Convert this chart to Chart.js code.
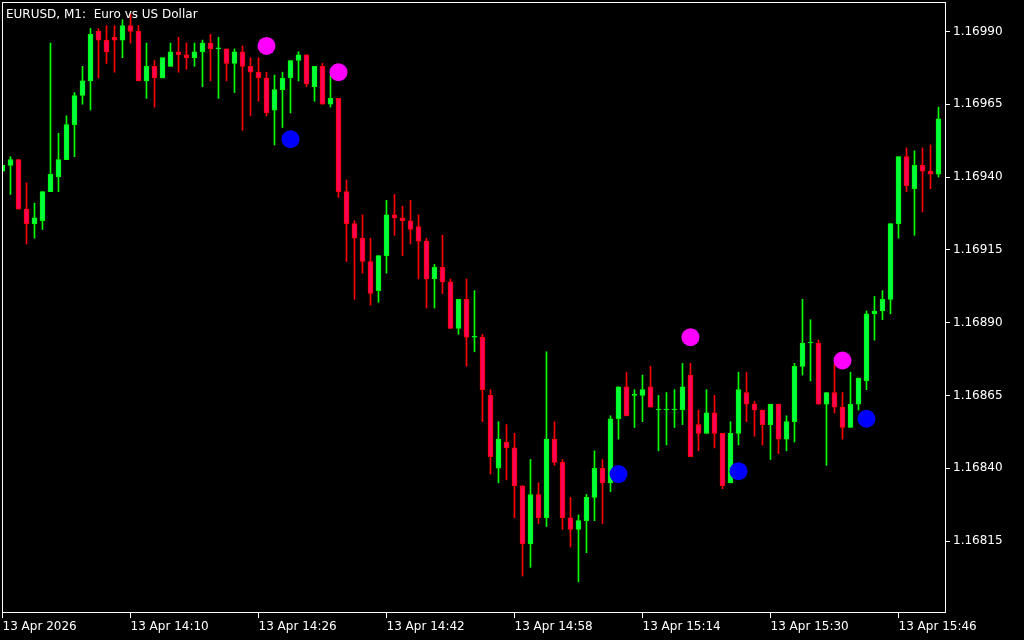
<!DOCTYPE html>
<html>
<head>
<meta charset="utf-8">
<title>EURUSD M1</title>
<script src="https://cdn.jsdelivr.net/npm/chart.js@4.4.1/dist/chart.umd.min.js"></script>
<style>
html, body { margin: 0; padding: 0; background: #000; }
#wrap { position: relative; width: 1024px; height: 640px; }
#title { position: absolute; left: 6px; top: 7px; color: #fff; font: 12px "DejaVu Sans", sans-serif; line-height: 14px; white-space: pre; }
</style>
</head>
<body>
<div id="wrap">
  <canvas id="c" width="1024" height="640"></canvas>
  <div id="title">EURUSD, M1:  Euro vs US Dollar</div>
</div>
<script>
// one bar per minute, starting 13 Apr 13:54
var opens = [
  1.16942, 1.16944, 1.16946, 1.16929, 1.16924, 1.16925, 1.16935, 1.16940, 1.16946, 1.16958,
  1.16968, 1.16973, 1.16990, 1.16987, 1.16988, 1.16987, 1.16992, 1.16990, 1.16973, 1.16978,
  1.16974, 1.16978, 1.16983, 1.16982, 1.16981, 1.16983, 1.16986, 1.16984, 1.16984, 1.16979,
  1.16983, 1.16978, 1.16976, 1.16974, 1.16963, 1.16970, 1.16974, 1.16980, 1.16982, 1.16971,
  1.16978, 1.16965, 1.16967, 1.16935, 1.16924, 1.16919, 1.16911, 1.16901, 1.16913, 1.16927,
  1.16926, 1.16925, 1.16923, 1.16918, 1.16905, 1.16909, 1.16904, 1.16888, 1.16898, 1.16885,
  1.16885, 1.16865, 1.16840, 1.16849, 1.16847, 1.16834, 1.16814, 1.16831, 1.16823, 1.16850,
  1.16842, 1.16823, 1.16819, 1.16822, 1.16830, 1.16840, 1.16835, 1.16857, 1.16868, 1.16865,
  1.16865, 1.16868, 1.16860, 1.16860, 1.16860, 1.16860, 1.16872, 1.16855, 1.16852, 1.16859,
  1.16852, 1.16835, 1.16852, 1.16866, 1.16862, 1.16860, 1.16855, 1.16862, 1.16850, 1.16856,
  1.16875, 1.16883, 1.16883, 1.16862, 1.16866, 1.16861, 1.16854, 1.16862, 1.16870, 1.16893,
  1.16894, 1.16898, 1.16924, 1.16947, 1.16936, 1.16944, 1.16942, 1.16941
];
var highs = [
  1.16944, 1.16947, 1.16946, 1.16938, 1.16931, 1.16935, 1.16986, 1.16955, 1.16961, 1.16969,
  1.16978, 1.16991, 1.16991, 1.16992, 1.16992, 1.16994, 1.16996, 1.16992, 1.16986, 1.16980,
  1.16981, 1.16986, 1.16988, 1.16986, 1.16986, 1.16987, 1.16989, 1.16988, 1.16984, 1.16984,
  1.16985, 1.16981, 1.16981, 1.16976, 1.16975, 1.16976, 1.16980, 1.16983, 1.16982, 1.16978,
  1.16979, 1.16975, 1.16967, 1.16939, 1.16925, 1.16927, 1.16919, 1.16913, 1.16932, 1.16934,
  1.16930, 1.16932, 1.16927, 1.16919, 1.16910, 1.16920, 1.16905, 1.16898, 1.16905, 1.16901,
  1.16886, 1.16867, 1.16856, 1.16855, 1.16852, 1.16834, 1.16843, 1.16835, 1.16880, 1.16856,
  1.16843, 1.16830, 1.16824, 1.16831, 1.16846, 1.16843, 1.16858, 1.16868, 1.16873, 1.16867,
  1.16872, 1.16875, 1.16865, 1.16866, 1.16867, 1.16876, 1.16876, 1.16860, 1.16867, 1.16865,
  1.16852, 1.16856, 1.16873, 1.16873, 1.16863, 1.16860, 1.16862, 1.16862, 1.16858, 1.16876,
  1.16898, 1.16891, 1.16884, 1.16866, 1.16876, 1.16866, 1.16873, 1.16871, 1.16894, 1.16899,
  1.16901, 1.16924, 1.16947, 1.16950, 1.16949, 1.16950, 1.16951, 1.16964
];
var lows = [
  1.16942, 1.16934, 1.16929, 1.16917, 1.16919, 1.16922, 1.16935, 1.16935, 1.16946, 1.16947,
  1.16965, 1.16963, 1.16974, 1.16979, 1.16976, 1.16981, 1.16986, 1.16973, 1.16967, 1.16964,
  1.16974, 1.16978, 1.16976, 1.16977, 1.16978, 1.16971, 1.16973, 1.16967, 1.16973, 1.16969,
  1.16956, 1.16961, 1.16966, 1.16961, 1.16951, 1.16957, 1.16962, 1.16973, 1.16971, 1.16966,
  1.16965, 1.16964, 1.16933, 1.16911, 1.16898, 1.16907, 1.16896, 1.16897, 1.16907, 1.16920,
  1.16913, 1.16917, 1.16905, 1.16895, 1.16895, 1.16900, 1.16888, 1.16886, 1.16875, 1.16880,
  1.16856, 1.16838, 1.16835, 1.16836, 1.16823, 1.16803, 1.16806, 1.16821, 1.16820, 1.16841,
  1.16819, 1.16813, 1.16801, 1.16811, 1.16822, 1.16821, 1.16832, 1.16850, 1.16858, 1.16854,
  1.16856, 1.16861, 1.16846, 1.16848, 1.16854, 1.16855, 1.16844, 1.16846, 1.16852, 1.16847,
  1.16833, 1.16835, 1.16848, 1.16856, 1.16851, 1.16848, 1.16843, 1.16845, 1.16846, 1.16849,
  1.16872, 1.16870, 1.16862, 1.16841, 1.16859, 1.16850, 1.16854, 1.16860, 1.16867, 1.16884,
  1.16891, 1.16893, 1.16919, 1.16935, 1.16920, 1.16928, 1.16936, 1.16940
];
var closes = [
  1.16944, 1.16946, 1.16929, 1.16924, 1.16926, 1.16935, 1.16941, 1.16946, 1.16958, 1.16968,
  1.16973, 1.16989, 1.16987, 1.16983, 1.16987, 1.16992, 1.16990, 1.16973, 1.16978, 1.16974,
  1.16981, 1.16983, 1.16982, 1.16981, 1.16983, 1.16986, 1.16984, 1.16984, 1.16979, 1.16983,
  1.16978, 1.16976, 1.16974, 1.16962, 1.16970, 1.16974, 1.16980, 1.16982, 1.16972, 1.16978,
  1.16965, 1.16967, 1.16935, 1.16924, 1.16919, 1.16911, 1.16900, 1.16913, 1.16927, 1.16926,
  1.16925, 1.16922, 1.16918, 1.16905, 1.16909, 1.16904, 1.16888, 1.16898, 1.16885, 1.16885,
  1.16867, 1.16844, 1.16850, 1.16847, 1.16834, 1.16814, 1.16831, 1.16823, 1.16850, 1.16842,
  1.16823, 1.16819, 1.16822, 1.16830, 1.16840, 1.16835, 1.16857, 1.16868, 1.16858, 1.16865,
  1.16867, 1.16861, 1.16860, 1.16860, 1.16860, 1.16868, 1.16844, 1.16852, 1.16859, 1.16852,
  1.16834, 1.16852, 1.16867, 1.16862, 1.16860, 1.16855, 1.16862, 1.16850, 1.16856, 1.16875,
  1.16883, 1.16883, 1.16862, 1.16866, 1.16861, 1.16854, 1.16862, 1.16871, 1.16893, 1.16894,
  1.16898, 1.16924, 1.16947, 1.16937, 1.16944, 1.16942, 1.16941, 1.16960
];

// signal dots (bar index, price)
var sellIdx = [33, 42, 86, 105];
var sellPrice = [1.16985, 1.16976, 1.16885, 1.16877];
var buyIdx = [36, 77, 92, 108];
var buyPrice = [1.16953, 1.16838, 1.16839, 1.16857];

// axis ticks
var tickIdx = [0, 16, 32, 48, 64, 80, 96, 112];
var tickLabels = ["13 Apr 2026", "13 Apr 14:10", "13 Apr 14:26", "13 Apr 14:42",
                  "13 Apr 14:58", "13 Apr 15:14", "13 Apr 15:30", "13 Apr 15:46"];
var priceTicks = [1.16815, 1.16840, 1.16865, 1.16890, 1.16915, 1.16940, 1.16965, 1.16990];

var bullLine = "#00ff00", bullFill = "#00ff40";
var bearLine = "#ff0000", bearFill = "#ff0055";

var bodies = [], wicks = [], bodyFill = [], bodyLine = [];
for (var i = 0; i < opens.length; i++) {
    var up = closes[i] >= opens[i];
    bodies.push({x: i, y: [opens[i], closes[i]]});
    wicks.push({x: i, y: [lows[i], highs[i]]});
    bodyFill.push(up ? bullFill : bearFill);
    bodyLine.push(up ? bullLine : bearLine);
}
var sells = sellIdx.map(function(k, j){ return {x: k, y: sellPrice[j]}; });
var buys = buyIdx.map(function(k, j){ return {x: k, y: buyPrice[j]}; });

var frame = {
    id: "frame",
    afterDraw: function(chart) {
        var a = chart.chartArea, ctx = chart.ctx;
        ctx.save();
        ctx.strokeStyle = "#fff";
        ctx.lineWidth = 1;
        ctx.strokeRect(a.left + 0.5, a.top + 0.5, a.right - a.left - 1, a.bottom - a.top - 1);
        ctx.restore();
    }
};

function noPad(scale) {
    scale.paddingTop = 0;
    scale.paddingBottom = 0;
    scale.paddingLeft = 0;
    scale.paddingRight = 0;
}

var font = {family: "DejaVu Sans", size: 12};

new Chart(document.getElementById("c").getContext("2d"), {
    type: "bar",
    data: {
        datasets: [
            {type: "scatter", data: sells, pointRadius: 9, pointHoverRadius: 9,
             backgroundColor: "#ff00ff", borderWidth: 0, order: -2},
            {type: "scatter", data: buys, pointRadius: 9, pointHoverRadius: 9,
             backgroundColor: "#0000ff", borderWidth: 0, order: -1},
            {data: bodies, backgroundColor: bodyFill, borderColor: bodyLine, borderWidth: 1,
             borderSkipped: false, barThickness: 5, minBarLength: 1, grouped: false, order: 0},
            {data: wicks, backgroundColor: bodyLine, borderWidth: 0,
             barThickness: 1, grouped: false, order: 1}
        ]
    },
    options: {
        responsive: false,
        animation: false,
        events: [],
        layout: {autoPadding: false, padding: {left: 2, top: 2, right: 0, bottom: 0}},
        plugins: {legend: {display: false}, tooltip: {enabled: false}},
        scales: {
            x: {
                type: "linear",
                offset: false,
                min: -0.0625,
                max: 117.9375,
                border: {display: false},
                grid: {offset: false, drawOnChartArea: false, drawTicks: true, tickLength: 5, color: "#fff"},
                afterBuildTicks: function(scale) {
                    scale.ticks = tickIdx.map(function(v){ return {value: v}; });
                },
                afterFit: function(scale) { scale.height = 27; noPad(scale); },
                ticks: {
                    color: "#fff", font: font, align: "start", padding: 2,
                    autoSkip: false, maxRotation: 0,
                    callback: function(v) { return tickLabels[tickIdx.indexOf(v)]; }
                }
            },
            y: {
                type: "linear",
                position: "right",
                min: 1.167903,
                max: 1.170001,
                border: {display: false},
                grid: {drawOnChartArea: false, drawTicks: true, tickLength: 4, color: "#fff"},
                afterBuildTicks: function(scale) {
                    scale.ticks = priceTicks.map(function(v){ return {value: v}; });
                },
                afterFit: function(scale) { scale.width = 78; noPad(scale); },
                ticks: {
                    color: "#fff", font: font, padding: 3,
                    callback: function(v) { return v.toFixed(5); }
                }
            }
        }
    },
    plugins: [frame]
});
</script>
</body>
</html>
